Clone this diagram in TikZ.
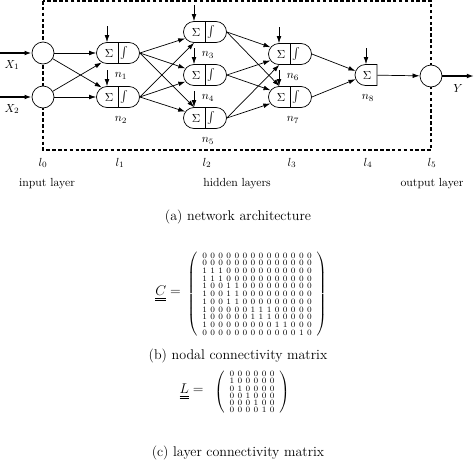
\documentclass[tikz,border=0pt]{standalone}
\usepackage{amsmath,amssymb}
\usetikzlibrary{shapes.misc,arrows.meta,positioning,calc,matrix}

\begin{document}
\begin{tikzpicture}[x=0.03cm,y=-0.03cm,line width=0.6pt,
  unit/.style={circle,draw,fill=white,minimum size=0.66cm,inner sep=0pt},
  neuron/.style={rounded rectangle,draw,fill=white,minimum width=1.29cm,minimum height=0.63cm,inner sep=0pt},
  outneuron/.style={neuron,rounded rectangle right arc=none,minimum width=0.66cm},
  link/.style={-{Latex[length=6pt,width=4pt]}},
  io/.style={link,line width=1.3pt},
  digit/.style={font=\fontsize{7}{7}\selectfont,inner sep=0pt,text height=4.6pt,text depth=0pt},
  connmat/.style={matrix of nodes,nodes={digit},column sep=2.9pt,inner xsep=2.6pt,inner ysep=1.5pt,
    left delimiter=(,right delimiter=),every delimiter/.style={inner sep=0pt}},
  matlabel/.style={font=\large,inner sep=1pt},
  caption/.style={font=\large}]
\useasboundingbox (0,0) rectangle (474,467);
% layer frame
\draw[line width=0.9pt,dash pattern=on 3pt off 2pt] (43,1) rectangle (431,150);
% hidden neurons
\foreach \i/\x/\y in {1/118/53,2/118/97,3/205/32,4/205/75,5/205/118,6/290/54,7/290/97}{
  \node[neuron] (n\i) at (\x,\y) {};
  \draw (n\i.north) -- (n\i.south);
  \node (s\i) at ($(n\i)+(-9,0)$) {$\Sigma$};
  \node (f\i) at ($(n\i)+(6,0)$) {$\int$};
  \coordinate (b\i) at ($(n\i.north)+(-11,-16)$);
  \draw[link] (b\i) -- (b\i |- n\i.north);
  \node (ln\i) at ($(n\i)+(3,23)$) {$n_{\i}$};
}
\node[outneuron] (n8) at (366,75) {};
\node (s8) at ($(n8)+(1,0)$) {$\Sigma$};
\coordinate (b8) at ($(n8.north)+(0,-16)$);
\draw[link] (b8) -- (n8.north);
\node (ln8) at ($(n8)+(2,23)$) {$n_8$};
% input and output units
\node[unit] (x1) at (43,53) {};
\node[unit] (x2) at (43,97) {};
\node[unit] (y) at (431,76) {};
\coordinate (in1) at (0,53);
\coordinate (in2) at (0,97);
\coordinate (out) at (474,76);
\draw[io] (in1) -- (x1);
\draw[io] (in2) -- (x2);
\draw[io] (y) -- (out);
\node (lx1) at (12,65) {$X_1$};
\node (lx2) at (12,109) {$X_2$};
\node (ly) at (458,88) {$Y$};
% connections
\foreach \a in {x1,x2}{\foreach \b in {n1,n2}{\draw[link] (\a) -- (\b);}}
\foreach \a in {n1,n2}{\foreach \b in {n3,n4,n5}{\draw[link] (\a.east) -- (\b);}}
\foreach \a in {n3,n4,n5}{\foreach \b in {n6,n7}{\draw[link] (\a.east) -- (\b);}}
\draw[link] (n6.east) -- (n8);
\draw[link] (n7.east) -- (n8);
\draw[link] (n8) -- (y);
% layers
\foreach \k/\x in {0/43,1/120,2/207,3/292,4/368,5/432}{\node (l\k) at (\x,163) {$l_{\k}$};}
\node (inlab) at (47,184) {input layer};
\node (hidlab) at (237,184) {hidden layers};
\node (outlab) at (432,184) {output layer};
\node[caption] (capa) at (238,217) {(a) network architecture};
% nodal connectivity matrix
\matrix (Cmat) at (257,294) [connmat,row sep=2pt] {
0&0&0&0&0&0&0&0&0&0&0&0&0&0\\
0&0&0&0&0&0&0&0&0&0&0&0&0&0\\
1&1&1&0&0&0&0&0&0&0&0&0&0&0\\
1&1&1&0&0&0&0&0&0&0&0&0&0&0\\
1&0&0&1&1&0&0&0&0&0&0&0&0&0\\
1&0&0&1&1&0&0&0&0&0&0&0&0&0\\
1&0&0&1&1&0&0&0&0&0&0&0&0&0\\
1&0&0&0&0&0&1&1&1&0&0&0&0&0\\
1&0&0&0&0&0&1&1&1&0&0&0&0&0\\
1&0&0&0&0&0&0&0&0&1&1&0&0&0\\
0&0&0&0&0&0&0&0&0&0&0&0&1&0\\
};
\node[matlabel,left=14pt of Cmat] (Clab) {$\underline{\underline{C}}=$};
\node[caption] (capb) at (238,356) {(b) nodal connectivity matrix};
% layer connectivity matrix
\matrix (Lmat) at (252,392) [connmat,row sep=1.6pt] {
0&0&0&0&0&0\\
1&0&0&0&0&0\\
0&1&0&0&0&0\\
0&0&1&0&0&0\\
0&0&0&1&0&0\\
0&0&0&0&1&0\\
};
\node[matlabel,left=18pt of Lmat] (Llab) {$\underline{\underline{L}}=$};
\node[caption] (capc) at (238,453) {(c) layer connectivity matrix};
\end{tikzpicture}
\end{document}
